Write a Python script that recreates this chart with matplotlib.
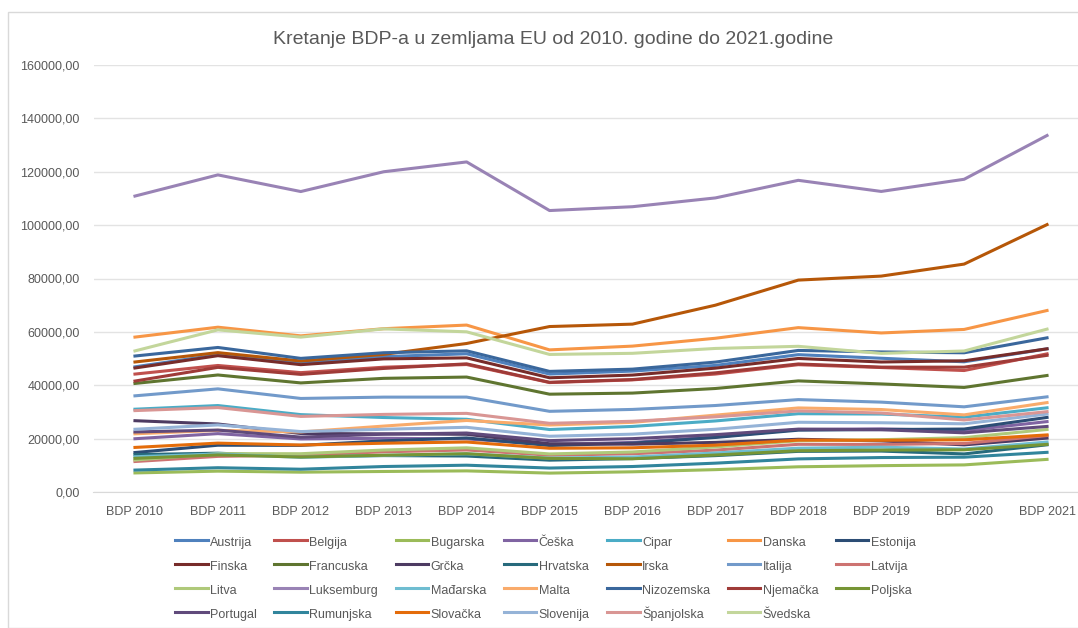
import matplotlib.pyplot as plt
from matplotlib.patches import Rectangle
from matplotlib.ticker import FuncFormatter

plt.rcParams['font.family'] = ['Liberation Sans Narrow', 'Liberation Sans', 'DejaVu Sans']

# BDP po stanovniku (USD), ocitano s grafa
godine = ['BDP 2010', 'BDP 2011', 'BDP 2012', 'BDP 2013', 'BDP 2014', 'BDP 2015',
          'BDP 2016', 'BDP 2017', 'BDP 2018', 'BDP 2019', 'BDP 2020', 'BDP 2021']

zemlje = ['Austrija', 'Belgija', 'Bugarska', 'Češka', 'Cipar', 'Danska', 'Estonija',
          'Finska', 'Francuska', 'Grčka', 'Hrvatska', 'Irska', 'Italija', 'Latvija',
          'Litva', 'Luksemburg', 'Mađarska', 'Malta', 'Nizozemska', 'Njemačka', 'Poljska',
          'Portugal', 'Rumunjska', 'Slovačka', 'Slovenija', 'Španjolska', 'Švedska']

austrija = [46903, 51442, 48565, 50731, 51786, 44196, 45307, 47429, 51467, 50114, 48790, 53638]
belgija = [44185, 47411, 44731, 46758, 47764, 41008, 42012, 44198, 47700, 46641, 45517, 51768]
bugarska = [7143, 7813, 7430, 7687, 7912, 7079, 7568, 8381, 9447, 9874, 10153, 12222]
ceska = [19960, 21871, 19870, 20134, 19890, 17830, 18575, 20637, 23419, 23660, 22992, 26379]
cipar = [31023, 32393, 28993, 27908, 27249, 23409, 24566, 26623, 29334, 29207, 28036, 31552]
danska = [58041, 61753, 58507, 61191, 62549, 53255, 54664, 57610, 61591, 59592, 60915, 68008]
estonija = [14791, 17526, 17465, 19171, 20261, 17402, 18295, 20437, 23165, 23397, 23595, 27944]
finska = [46460, 51081, 47711, 49878, 50260, 42802, 43814, 46412, 50038, 48712, 49161, 53655]
francuska = [40676, 43847, 40875, 42593, 43069, 36653, 37063, 38781, 41631, 40494, 39179, 43659]
grcka = [26717, 25483, 21914, 21788, 21617, 18083, 17924, 18582, 19757, 19150, 17657, 20193]
hrvatska = [14004, 14548, 13250, 13641, 13481, 11933, 12528, 13629, 15227, 15335, 14269, 17685]
irska = [48715, 52224, 49092, 51568, 55650, 62000, 62900, 70000, 79400, 80900, 85400, 100200]
italija = [36036, 38650, 35054, 35550, 35565, 30230, 30940, 32407, 34622, 33674, 31919, 35657]
latvija = [11420, 13346, 13825, 15051, 15743, 13786, 14332, 15695, 17865, 17829, 18174, 21148]
litva = [11988, 14376, 14344, 15730, 16555, 14263, 14999, 16885, 19186, 19602, 20363, 23433]
luksemburg = [110886, 118823, 112584, 120000, 123679, 105462, 106899, 110193, 116786, 112622, 117182, 133590]
madarska = [13217, 14234, 12986, 13715, 14294, 12717, 13104, 14622, 16427, 16783, 16121, 18728]
malta = [21800, 23100, 22500, 24700, 26800, 25100, 26100, 28800, 31500, 30900, 28900, 33500]
nizozemska = [50950, 54160, 50070, 52184, 52900, 45193, 46039, 48675, 53044, 52476, 52163, 57768]
njemacka = [41572, 46705, 44065, 46299, 48024, 41103, 42136, 44653, 47974, 46794, 46773, 51204]
poljska = [12614, 13893, 13097, 13781, 14347, 12596, 12448, 13865, 15469, 15700, 15817, 17841]
portugal = [22499, 23212, 20565, 21654, 22103, 19251, 19992, 21490, 23563, 23331, 22176, 24567]
rumunjska = [8214, 9099, 8539, 9548, 10043, 8976, 9548, 10807, 12399, 12914, 13047, 14862]
slovacka = [16704, 18316, 17609, 18277, 18735, 16390, 16563, 17553, 19443, 19383, 19546, 21391]
slovenija = [23509, 25128, 22642, 23503, 24247, 20890, 21678, 23514, 26124, 25946, 25558, 29201]
spanjolska = [30502, 31636, 28324, 29077, 29461, 25732, 26506, 28170, 30379, 29600, 26984, 30104]
svedska = [52869, 60756, 58038, 61127, 60020, 51545, 51965, 53791, 54589, 51939, 52837, 61029]

podaci = [austrija, belgija, bugarska, ceska, cipar, danska, estonija, finska, francuska,
          grcka, hrvatska, irska, italija, latvija, litva, luksemburg, madarska, malta,
          nizozemska, njemacka, poljska, portugal, rumunjska, slovacka, slovenija,
          spanjolska, svedska]

boje = ['#4F81BD', '#C0504D', '#9BBB59', '#8064A2', '#4BACC6', '#F79646', '#2C4D75',
        '#772C2A', '#5F7530', '#4D3B62', '#276A7C', '#B65708', '#729ACA', '#CD7371',
        '#AFC97A', '#9983B5', '#6FBDD1', '#F9AB6B', '#3A679C', '#9F3B38', '#769535',
        '#604A7B', '#31859C', '#E46C0A', '#95B3D7', '#D99694', '#C3D69B']

fig = plt.figure(figsize=(10.78, 6.28), dpi=100)
fig.patches.append(Rectangle((8 / 1078, 0), 1.0, 1 - 12 / 628, transform=fig.transFigure,
                             fill=False, edgecolor='#D9D9D9', lw=1))

ax = fig.add_axes([93.5 / 1078, 1 - 492 / 628, 995 / 1078, 427 / 628])

x = list(range(len(godine)))
linije = []
for ime, y, c in zip(zemlje, podaci, boje):
    ln, = ax.plot(x, y, color=c, lw=2.2, label=ime, solid_joinstyle='round')
    linije.append(ln)

ax.set_xlim(-0.5, 11.5)
ax.set_ylim(0, 160000)
ax.set_yticks(range(0, 160001, 20000))
ax.yaxis.set_major_formatter(FuncFormatter(lambda v, p: f'{v:.2f}'.replace('.', ',')))
ax.set_xticks(x)
ax.set_xticklabels(godine)
ax.grid(axis='y', color='#E3E3E3', lw=1)
ax.set_axisbelow(True)
for s in ['top', 'right', 'left']:
    ax.spines[s].set_visible(False)
ax.spines['bottom'].set_color('#D9D9D9')
ax.tick_params(length=0, colors='#595959', labelsize=9)
ax.tick_params(axis='x', pad=10)
ax.tick_params(axis='y', pad=10)

fig.text(553 / 1078, 1 - 40 / 628, 'Kretanje BDP-a u zemljama EU od 2010. godine do 2021.godine',
         ha='center', va='center', fontsize=14, color='#595959')

# legenda red po red (matplotlib puni po stupcima)
ncol = 7
redoslijed = [i for c in range(ncol) for i in range(c, len(linije), ncol)]
ax.legend([linije[i] for i in redoslijed], [zemlje[i] for i in redoslijed],
          ncol=ncol, loc='upper left', bbox_to_anchor=(170 / 1078, 1 - 529 / 628),
          bbox_transform=fig.transFigure, frameon=False, fontsize=9,
          labelcolor='#595959', handlelength=2.6, handletextpad=0.2,
          handleheight=1.6, columnspacing=1.4, labelspacing=0.64, borderaxespad=0)

fig.savefig('out.png', dpi=100)
